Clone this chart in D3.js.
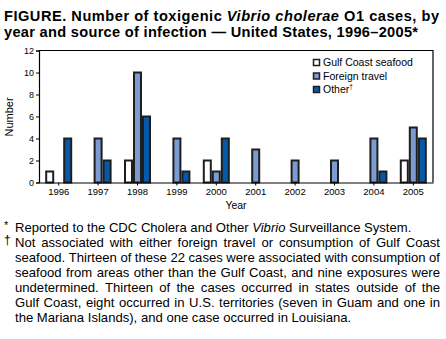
<!DOCTYPE html>
<html>
<head>
<meta charset="utf-8">
<script src="https://cdn.jsdelivr.net/npm/d3@7"></script>
<style>
  html, body { margin: 0; padding: 0; background: #fff; }
  svg { display: block; }
  text { font-family: "Liberation Sans", Arial, Helvetica, sans-serif; fill: #000; }
</style>
</head>
<body>
<svg id="chart" width="446" height="339"></svg>
<script>
// Toxigenic V. cholerae O1 cases by year and source of infection
const years = ["1996", "1997", "1998", "1999", "2000", "2001", "2002", "2003", "2004", "2005"];
const gulfCoast = [1, 0, 2, 0, 2, 0, 0, 0, 0, 2];
const foreignTravel = [0, 4, 10, 4, 1, 3, 2, 2, 4, 5];
const other = [4, 2, 6, 1, 4, 0, 0, 0, 1, 4];
const yTicks = [0, 2, 4, 6, 8, 10, 12];

const seriesNames = ["Gulf Coast seafood", "Foreign travel", "Other"];
const seriesColors = ["#ffffff", "#7b9bd2", "#045aa8"];
const seriesValues = [gulfCoast, foreignTravel, other];

const titleLines = [
  ["FIGURE. Number of toxigenic ", {i: "Vibrio cholerae"}, " O1 cases, by"],
  ["year and source of infection — United States, 1996–2005*"]
];
const titleWidths = [435, 414];

const footLines = [
  {mark: "*", words: "Reported to the CDC Cholera and Other _Vibrio_ Surveillance System.", justify: false},
  {mark: "†", words: "Not associated with either foreign travel or consumption of Gulf Coast", justify: true},
  {words: "seafood. Thirteen of these 22 cases were associated with consumption of", justify: true},
  {words: "seafood from areas other than the Gulf Coast, and nine exposures were", justify: true},
  {words: "undetermined. Thirteen of the cases occurred in states outside of the", justify: true},
  {words: "Gulf Coast, eight occurred in U.S. territories (seven in Guam and one in", justify: true},
  {words: "the Mariana Islands), and one case occurred in Louisiana.", justify: false}
];

const svg = d3.select("#chart");

// ---- title ----
const title = svg.append("g");
titleLines.forEach((parts, li) => {
  const t = title.append("text")
    .attr("x", 4)
    .attr("y", 21 + li * 16)
    .attr("font-size", 14.6)
    .attr("font-weight", "bold");
  parts.forEach(p => {
    if (typeof p === "string") t.append("tspan").text(p);
    else t.append("tspan").attr("font-style", "italic").text(p.i);
  });
  t.attr("textLength", titleWidths[li]).attr("lengthAdjust", "spacing");
});

// ---- plot ----
const plot = {left: 39, right: 433, top: 50.5, bottom: 182.5};

const x = d3.scaleBand().domain(years).range([plot.left, plot.right]);
const y = d3.scaleLinear().domain([0, 12]).range([plot.bottom, plot.top]);
const barW = 9;

// frame: top and right edges
svg.append("path")
  .attr("d", `M${plot.left},${plot.top}H${plot.right}V${plot.bottom}`)
  .attr("fill", "none").attr("stroke", "#000").attr("stroke-width", 1.2);

// bars
seriesValues.forEach((vals, si) => {
  svg.append("g").selectAll("rect")
    .data(years.map((yr, i) => ({yr, v: vals[i]})).filter(d => d.v > 0))
    .join("rect")
    .attr("x", d => x(d.yr) + x.bandwidth() / 2 + (si - 1.5) * barW + 1)
    .attr("y", d => y(d.v))
    .attr("width", barW - 2)
    .attr("height", d => plot.bottom - y(d.v))
    .attr("fill", seriesColors[si])
    .attr("stroke", "#1e1e1e")
    .attr("stroke-width", 2);
});

// y axis
const yAxis = svg.append("g")
  .attr("transform", `translate(${plot.left},0)`)
  .call(d3.axisLeft(y).tickValues(yTicks).tickSize(3).tickPadding(2));
yAxis.select(".domain").attr("stroke", "#000").attr("stroke-width", 1.2);
yAxis.selectAll(".tick line").attr("stroke", "#000");
yAxis.selectAll("text").attr("font-size", 9).attr("font-family", null);

// x axis
const xAxis = svg.append("g")
  .attr("transform", `translate(0,${plot.bottom})`)
  .call(d3.axisBottom(x).tickSize(3).tickSizeOuter(0).tickPadding(3));
xAxis.select(".domain").attr("stroke", "#000").attr("stroke-width", 1.2);
xAxis.selectAll(".tick line").attr("stroke", "#000");
xAxis.selectAll("text").attr("font-size", 9.5).attr("font-family", null);

// axis titles
svg.append("text")
  .attr("transform", `translate(13,117) rotate(-90)`)
  .attr("text-anchor", "middle")
  .attr("font-size", 11)
  .text("Number");
svg.append("text")
  .attr("x", 236).attr("y", 209)
  .attr("text-anchor", "middle")
  .attr("font-size", 10.5)
  .text("Year");

// legend
const legend = svg.append("g").attr("transform", "translate(313,62.5)");
seriesNames.forEach((name, i) => {
  const row = legend.append("g").attr("transform", `translate(0,${i * 13.5})`);
  row.append("rect")
    .attr("x", 0.5).attr("y", -3)
    .attr("width", 6).attr("height", 6)
    .attr("fill", seriesColors[i])
    .attr("stroke", "#1e1e1e").attr("stroke-width", 1.5);
  const t = row.append("text")
    .attr("x", 10).attr("y", 3.8)
    .attr("font-size", 10.5)
    .text(name);
  if (name === "Other") {
    t.append("tspan").attr("font-size", 6.5).attr("dy", -4).text("†");
  }
});

// ---- footnotes ----
const foot = svg.append("g");
const footLeft = 15, footRight = 440, footSize = 13.1, minGap = 2.6;
const measurer = svg.append("text").attr("visibility", "hidden");
function wordWidth(w, italic, size) {
  measurer.attr("font-size", size).attr("font-style", italic ? "italic" : "normal").text(w);
  return measurer.node().getComputedTextLength();
}
function spaceWidth(size) {
  measurer.attr("font-size", size).attr("font-style", "normal").text("a a");
  const w2 = measurer.node().getComputedTextLength();
  measurer.text("aa");
  return w2 - measurer.node().getComputedTextLength();
}

footLines.forEach((line, li) => {
  const baseY = 232 + li * 15;
  if (line.mark) {
    foot.append("text")
      .attr("x", 4)
      .attr("y", line.mark === "*" ? baseY - 3 : baseY - 3)
      .attr("font-size", line.mark === "*" ? 11 : 12)
      .text(line.mark);
  }
  const raw = line.words.split(" ").map(w => {
    const italic = /^_.*_$/.test(w);
    return {txt: italic ? w.slice(1, -1) : w, italic};
  });
  // shrink a justified line slightly if its words would leave too little room
  let size = footSize;
  const widthAt = s => d3.sum(raw, d => wordWidth(d.txt, d.italic, s));
  if (line.justify) {
    const avail = footRight - footLeft - minGap * (raw.length - 1);
    const w = widthAt(size);
    if (w > avail) size = size * avail / w;
  }
  const words = raw.map(d => ({...d, w: wordWidth(d.txt, d.italic, size)}));
  const total = d3.sum(words, d => d.w);
  const gap = line.justify ? (footRight - footLeft - total) / (words.length - 1) : spaceWidth(size);
  let cx = footLeft;
  words.forEach(wd => {
    foot.append("text")
      .attr("x", cx).attr("y", baseY)
      .attr("font-size", size)
      .attr("font-style", wd.italic ? "italic" : null)
      .text(wd.txt);
    cx += wd.w + gap;
  });
});
measurer.remove();
</script>
</body>
</html>
